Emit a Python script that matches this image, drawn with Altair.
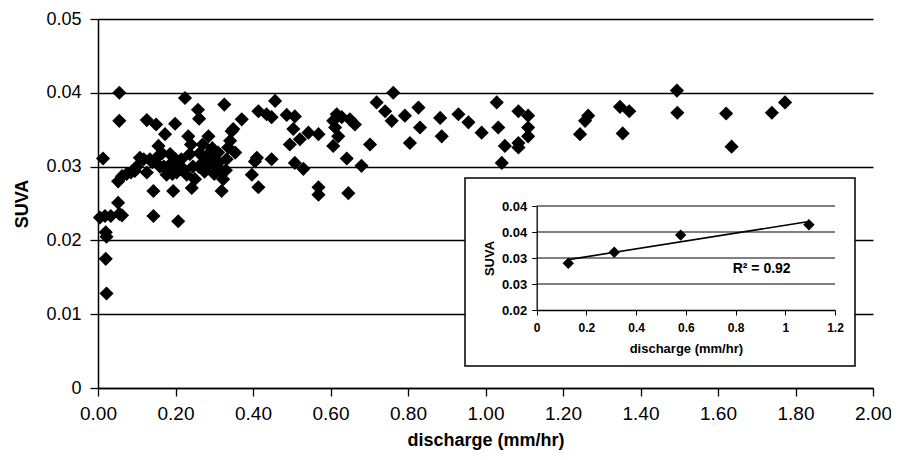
import altair as alt
import pandas as pd

# ---------------- data ----------------
discharge = [
    0.005, 0.018, 0.033, 0.055, 0.062, 0.052, 0.020, 0.022, 0.020, 0.022, 0.013, 0.052, 0.062, 0.055, 0.055,
    0.074, 0.085, 0.095, 0.100, 0.108, 0.118, 0.126, 0.126, 0.134, 0.140, 0.143, 0.143, 0.150, 0.153, 0.156, 0.160,
    0.165, 0.170, 0.173, 0.177, 0.180, 0.186, 0.190, 0.192, 0.194, 0.199, 0.200, 0.203, 0.207, 0.212, 0.215, 0.220,
    0.2245, 0.229, 0.233, 0.237, 0.240, 0.242, 0.245, 0.250,
    0.258, 0.261, 0.260, 0.262, 0.270, 0.270, 0.275, 0.280, 0.285, 0.289, 0.295, 0.300, 0.300, 0.310, 0.310, 0.315,
    0.319, 0.323, 0.326, 0.330, 0.332, 0.336, 0.341, 0.345, 0.349, 0.354,
    0.371, 0.397, 0.405, 0.410, 0.414, 0.414, 0.435, 0.448, 0.448, 0.457, 0.487, 0.495, 0.504, 0.508, 0.508, 0.521,
    0.530, 0.543,
    0.569, 0.569, 0.569, 0.607, 0.612, 0.616, 0.620, 0.607, 0.629, 0.642, 0.646, 0.650, 0.663, 0.680, 0.702, 0.719,
    0.741, 0.758, 0.762, 0.792, 0.805, 0.827, 0.831, 0.883, 0.887, 0.930, 0.956, 0.990,
    1.029, 1.033, 1.042, 1.050, 1.085, 1.085, 1.085, 1.110, 1.110, 1.110,
    1.244, 1.257, 1.265, 1.347, 1.371, 1.354, 1.494, 1.495, 1.621, 1.635, 1.739, 1.773,
]
suva = [
    0.0231, 0.0233, 0.0233, 0.0236, 0.0234, 0.0251, 0.0211, 0.0205, 0.0175, 0.0128, 0.0311, 0.0280, 0.0287, 0.0362, 0.0400,
    0.0290, 0.0292, 0.0294, 0.0300, 0.0312, 0.0310, 0.0292, 0.0363, 0.0310, 0.0306, 0.0267, 0.0233, 0.0357, 0.0313, 0.0328, 0.0300,
    0.0318, 0.0300, 0.0344, 0.0289, 0.0296, 0.0317, 0.0305, 0.0290, 0.0267, 0.0358, 0.0310, 0.0292, 0.0226, 0.0301, 0.0310, 0.0295,
    0.0393, 0.0289, 0.0341, 0.0317, 0.0330, 0.0271, 0.0300, 0.0283,
    0.0377, 0.0365, 0.0300, 0.0318, 0.0305, 0.0330, 0.0293, 0.0315, 0.0341, 0.0303, 0.0325, 0.0290, 0.0313, 0.0319, 0.0305, 0.0296,
    0.0267, 0.0283, 0.0384, 0.0295, 0.0310, 0.0326, 0.0335, 0.0348, 0.0351, 0.0319,
    0.0364, 0.0289, 0.0307, 0.0312, 0.0375, 0.0272, 0.0371, 0.0310, 0.0367, 0.0389, 0.0370, 0.0330, 0.0351, 0.0368, 0.0305, 0.0337,
    0.0297, 0.0346,
    0.0344, 0.0272, 0.0262, 0.0362, 0.0353, 0.0371, 0.0341, 0.0328, 0.0367, 0.0311, 0.0264, 0.0364, 0.0357, 0.0301, 0.0330, 0.0387,
    0.0375, 0.0362, 0.0400, 0.0369, 0.0332, 0.0380, 0.0353, 0.0366, 0.0341, 0.0371, 0.0360, 0.0346,
    0.0387, 0.0353, 0.0305, 0.0328, 0.0375, 0.0332, 0.0326, 0.0369, 0.0353, 0.0341,
    0.0344, 0.0362, 0.0369, 0.0381, 0.0375, 0.0345, 0.0403, 0.0373, 0.0372, 0.0327, 0.0373, 0.0387,
]

inset_discharge = [0.127, 0.312, 0.579, 1.095]
inset_suva = [0.0290, 0.0311, 0.0344, 0.0364]

main_x_ticks = [0.0, 0.2, 0.4, 0.6, 0.8, 1.0, 1.2, 1.4, 1.6, 1.8, 2.0]
main_y_ticks = [0.0, 0.01, 0.02, 0.03, 0.04, 0.05]
inset_x_ticks = [0, 0.2, 0.4, 0.6, 0.8, 1, 1.2]
inset_y_ticks = [0.02, 0.025, 0.03, 0.035, 0.04]
inset_grid = [0.025, 0.03, 0.035, 0.04]
r2_label = "R\u00b2 = 0.92"

FONT = "Liberation Sans"
W, H = 775, 369

main_df = pd.DataFrame({"discharge": discharge, "suva": suva})
inset_df = pd.DataFrame({"discharge": inset_discharge, "suva": inset_suva})
grid_df = pd.DataFrame({"suva": inset_grid,
                        "discharge": [inset_x_ticks[0]] * len(inset_grid),
                        "discharge_end": [inset_x_ticks[-1]] * len(inset_grid)})

# ---------------- main chart ----------------
main = alt.Chart(main_df).mark_point(
    shape="diamond", filled=True, color="black", size=200, opacity=1
).encode(
    x=alt.X("discharge:Q",
            scale=alt.Scale(domain=[0, 2], nice=False, zero=False),
            axis=alt.Axis(values=main_x_ticks, format=".2f", title="discharge (mm/hr)",
                          grid=False, tickSize=8, labelPadding=8, labelFontSize=19,
                          labelFlush=False,
                          titleFontSize=18, titleFontWeight="bold", titlePadding=8,
                          domainWidth=1.5, tickWidth=1.3)),
    y=alt.Y("suva:Q",
            scale=alt.Scale(domain=[0, 0.05], nice=False),
            axis=alt.Axis(values=main_y_ticks,
                          labelExpr="datum.value == 0 ? '0' : format(datum.value, '.2f')",
                          title="SUVA", grid=True, gridWidth=1.3, tickSize=8, labelPadding=9,
                          labelFlush=False,
                          labelFontSize=18, titleFontSize=18, titleFontWeight="bold",
                          titlePadding=14, domainWidth=1.5, tickWidth=1.3)),
)

# ---------------- inset ----------------
ix_scale = alt.Scale(domain=[0, 1.2], range=[438.7, 737], nice=False, zero=False)
iy_scale = alt.Scale(domain=[0.02, 0.04], range=[291, 187], nice=False, zero=False)

ix_axis = alt.Axis(orient="bottom", offset=291 - H, values=inset_x_ticks, format="~g",
                   title="discharge (mm/hr)", grid=False, tickSize=5, labelPadding=7,
                   labelFlush=False,
                   labelFontSize=12, labelFontWeight="bold", titleFontSize=13,
                   titleFontWeight="bold", titlePadding=9, zindex=2, domainWidth=1.3)
iy_axis = alt.Axis(orient="left", offset=-438.7, values=inset_y_ticks, format=".2f",
                   title="SUVA", grid=False, tickSize=5, labelPadding=5,
                   labelFlush=False,
                   labelFontSize=13, labelFontWeight="bold", titleFontSize=13,
                   titleFontWeight="bold", titlePadding=5, zindex=2, domainWidth=1.3)


def ix(field):
    return alt.X(field, scale=ix_scale, axis=ix_axis)


def iy(field):
    return alt.Y(field, scale=iy_scale, axis=iy_axis)


box = alt.Chart(pd.DataFrame({"k": [0]})).mark_rect(
    fill="white", stroke="black", strokeWidth=1.5
).encode(x=alt.value(367), x2=alt.value(757), y=alt.value(159), y2=alt.value(347))

igrid = alt.Chart(grid_df).mark_rule(color="black", strokeWidth=1.2).encode(
    x=ix("discharge:Q"), x2="discharge_end:Q", y=iy("suva:Q")
)

ipts = alt.Chart(inset_df).mark_point(
    shape="diamond", filled=True, color="black", size=130, opacity=1
).encode(x=ix("discharge:Q"), y=iy("suva:Q"))

itrend = alt.Chart(inset_df).transform_regression("discharge", "suva").mark_line(
    color="black", strokeWidth=1.6
).encode(x=ix("discharge:Q"), y=iy("suva:Q"))

ir2 = alt.Chart(pd.DataFrame({"label": [r2_label]})).mark_text(
    font=FONT, fontSize=14, fontWeight="bold", color="black", align="center", baseline="middle"
).encode(x=alt.datum(0.905), y=alt.datum(0.0279), text="label:N")

inset = alt.layer(box, igrid, itrend, ipts, ir2)

chart = alt.layer(main, inset).resolve_scale(
    x="independent", y="independent"
).properties(
    width=W, height=H,
    autosize=alt.AutoSizeParams(type="none"),
    padding={"left": 90, "top": 11, "right": 18, "bottom": 64},
).configure_view(stroke=None).configure_axis(
    labelFont=FONT, titleFont=FONT, domainColor="black", tickColor="black",
    gridColor="black", labelColor="black", titleColor="black", gridOpacity=1,
)

chart.save("out.html", embed_options={"renderer": "svg", "actions": False})
